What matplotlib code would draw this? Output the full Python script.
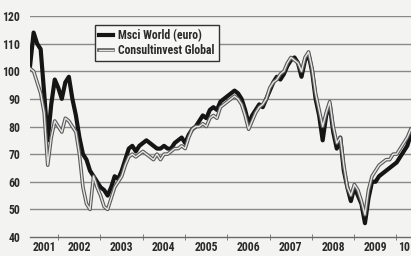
import numpy as np
import matplotlib
matplotlib.use('Agg')
import matplotlib.pyplot as plt
import matplotlib.patheffects as pe
from matplotlib import font_manager

# monthly readings, starting around May 2001
start_year = 2001.34
msci_world = [
    102, 114, 110, 108, 92, 75, 88, 97, 94, 90,
    96, 98, 90, 84, 76, 70, 68, 64, 62, 60,
    58, 57, 55, 58, 62, 61, 64, 68, 72, 73,
    71, 73, 74, 75, 74, 73, 72, 72, 73, 72,
    72, 74, 75, 76, 74, 77, 79, 80, 82, 84,
    83, 86, 87, 86, 89, 90, 91, 92, 93, 92,
    90, 86, 81, 84, 86, 88, 87, 90, 93, 96,
    98, 97, 99, 102, 104, 105, 103, 98, 104, 106,
    100, 90, 84, 75, 84, 88, 78, 72, 76, 64,
    58, 53, 58, 55, 52, 45, 54, 60, 60, 62,
    63, 64, 65, 66, 67, 69, 71, 73, 77,
]
consultinvest = [
    101, 100, 96, 92, 85, 66, 76, 82, 80, 78,
    83, 82, 80, 78, 70, 58, 52, 50, 62, 58,
    55, 51, 50, 54, 58, 60, 62, 66, 69, 70,
    69, 70, 71, 70, 69, 68, 70, 68, 70, 70,
    71, 72, 72, 73, 72, 76, 79, 80, 80, 81,
    80, 83, 84, 83, 87, 88, 89, 90, 91, 90,
    88, 84, 79, 82, 85, 87, 88, 90, 94, 96,
    97, 99, 100, 103, 105, 104, 103, 100, 105, 107,
    101, 92, 86, 80, 85, 89, 80, 74, 76, 66,
    58, 55, 59, 57, 53, 48, 57, 62, 64, 66,
    67, 68, 68, 70, 70, 72, 74, 76, 79,
]
year_labels = ['2001', '2002', '2003', '2004', '2005', '2006', '2007', '2008', '2009', '10']
y_ticks = [40, 50, 60, 70, 80, 90, 100, 110, 120]

x_min, x_max = 2001.338, 2010.345
t = start_year + np.arange(len(msci_world)) / 12.0

# pick a narrow face if one is installed
installed = {f.name for f in font_manager.fontManager.ttflist}
narrow = [n for n in ['Liberation Sans Narrow', 'DejaVu Sans Condensed', 'Roboto Condensed']
          if n in installed]
font = narrow[:1] + ['DejaVu Sans']
size = 8.5 if narrow else 7.0
stretch = 'normal' if narrow else 'condensed'
ink = '#2b2b2b'

fig = plt.figure(figsize=(4.11, 2.56), dpi=100)
fig.patch.set_facecolor('#f3f3f1')
ax = fig.add_axes([30 / 411, 1 - 237 / 256, 381 / 411, 221 / 256])
ax.set_facecolor('#f3f3f1')

for v in y_ticks[1:]:
    ax.axhline(v, color='#8a8a8a', lw=1.0, zorder=1)

ax.plot(t, msci_world, color='#151515', lw=3.0, solid_joinstyle='round',
        label='Msci World (euro)', zorder=3)
ax.plot(t, consultinvest, color='#e6e6e6', lw=1.0, solid_joinstyle='round',
        label='Consultinvest Global', zorder=4,
        path_effects=[pe.Stroke(linewidth=2.6, foreground='#5a5a5a'), pe.Normal()])

ax.set_xlim(x_min, x_max)
ax.set_ylim(40, 120)

for s in ['top', 'right', 'left']:
    ax.spines[s].set_visible(False)
ax.spines['bottom'].set_color('#6a6a6a')
ax.spines['bottom'].set_linewidth(1.0)

ax.set_yticks(y_ticks)
ax.set_yticklabels([str(v) for v in y_ticks])
ax.tick_params(axis='y', length=0, pad=7)

# year boundaries as small ticks, labels in the middle of each year
bounds = np.arange(2002, 2011)
ax.set_xticks(bounds, minor=True)
edges = np.concatenate([[x_min], bounds, [x_max]])
ax.set_xticks((edges[:-1] + edges[1:]) / 2)
ax.set_xticklabels(year_labels)
ax.tick_params(axis='x', which='major', length=0, pad=3)
ax.tick_params(axis='x', which='minor', length=5, direction='inout', color='#6a6a6a')

for lab in ax.get_xticklabels() + ax.get_yticklabels():
    lab.set_family(font)
    lab.set_fontweight('bold')
    lab.set_fontsize(size)
    lab.set_fontstretch(stretch)
    lab.set_color(ink)

leg = ax.legend(loc='upper left', bbox_to_anchor=(0.171, 0.959), borderaxespad=0,
                fancybox=False, frameon=True, handlelength=1.2, handletextpad=0.4,
                borderpad=0.35, labelspacing=0.15,
                prop={'family': font, 'weight': 'bold', 'size': size, 'stretch': stretch})
leg.get_frame().set_edgecolor('#333333')
leg.get_frame().set_linewidth(1.0)
leg.get_frame().set_facecolor('#f6f6f4')
leg.get_frame().set_alpha(1)
for txt in leg.get_texts():
    txt.set_color(ink)

fig.savefig('out.png', dpi=100, facecolor=fig.get_facecolor())
